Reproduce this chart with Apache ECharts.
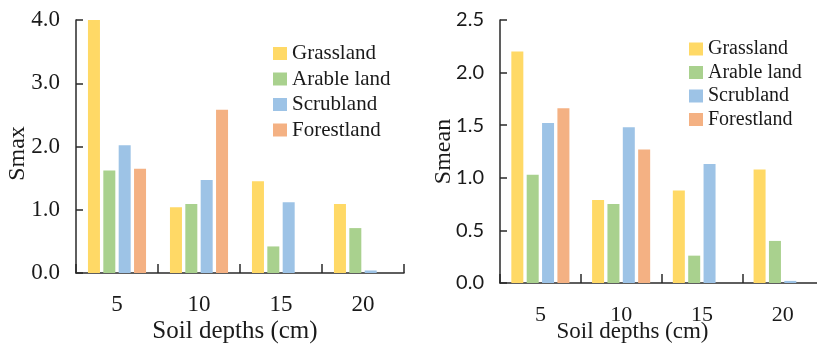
<!DOCTYPE html>
<html>
<head>
<meta charset="utf-8">
<script src="https://cdn.jsdelivr.net/npm/echarts@6/dist/echarts.min.js"></script>
<style>
html,body{margin:0;padding:0;background:#fff;}
#chart{width:817px;height:350px;}
</style>
</head>
<body>
<div id="chart"></div>
<script>
const categories = ['5', '10', '15', '20'];
const seriesNames = ['Grassland', 'Arable land', 'Scrubland', 'Forestland'];
const smaxGrassland = [4.0, 1.04, 1.45, 1.09];
const smaxArable = [1.62, 1.09, 0.42, 0.71];
const smaxScrub = [2.02, 1.47, 1.12, 0.04];
const smaxForest = [1.65, 2.58, null, null];
const smeanGrassland = [2.20, 0.79, 0.88, 1.08];
const smeanArable = [1.03, 0.75, 0.26, 0.40];
const smeanScrub = [1.52, 1.48, 1.13, 0.02];
const smeanForest = [1.66, 1.27, null, null];
const smaxTicks = [0, 1, 2, 3, 4];
const smeanTicks = [0, 0.5, 1.0, 1.5, 2.0, 2.5];

const colors = ['#FFD966', '#A9D18E', '#9DC3E6', '#F4B183'];
const serif = 'Liberation Serif';
const sans = 'Lato';
const axisColor = '#2a2a2a';
const textColor = '#1a1a1a';

function xAxisCfg(gridIndex, nameGap, nameSize, namePad, labelSize, labelMargin) {
  return {
    type: 'category', gridIndex, data: categories,
    name: 'Soil depths (cm)', nameLocation: 'middle', nameGap, nameMoveOverlap: false,
    nameTextStyle: {fontFamily: serif, fontSize: nameSize, color: textColor, padding: namePad},
    axisLine: {lineStyle: {color: axisColor, width: 1.5}},
    axisTick: {show: true, inside: true, length: 9, lineStyle: {color: axisColor, width: 1.5}},
    axisLabel: {fontFamily: serif, fontSize: labelSize, color: textColor, margin: labelMargin}
  };
}
function yAxisCfg(gridIndex, name, ticks, font, fontSize, nameGap, namePad) {
  return {
    type: 'value', gridIndex, min: ticks[0], max: ticks[ticks.length - 1],
    interval: ticks[1] - ticks[0],
    name, nameLocation: 'middle', nameGap, nameMoveOverlap: false,
    nameTextStyle: {fontFamily: serif, fontSize: 24, color: textColor, padding: namePad},
    axisLine: {show: true, lineStyle: {color: axisColor, width: 1.5}},
    axisTick: {show: true, inside: true, length: 7, lineStyle: {color: axisColor, width: 1.5}},
    splitLine: {show: false},
    axisLabel: {fontFamily: font, fontSize, color: textColor, margin: 16,
      formatter: v => v.toFixed(1)}
  };
}
function barSeries(name, data, idx, color) {
  return {
    name, type: 'bar', xAxisIndex: idx, yAxisIndex: idx, data,
    barWidth: 12, barGap: '28%', itemStyle: {color}
  };
}
function legendCfg(left, top, gap, size) {
  return {
    data: seriesNames, orient: 'vertical', left, top, itemGap: gap, padding: 0,
    itemWidth: 14, itemHeight: 13, icon: 'rect', itemStyle: {borderWidth: 0},
    textStyle: {fontFamily: serif, fontSize: size, color: textColor}, itemTextGap: 6
  };
}

const chart = echarts.init(document.getElementById('chart'));
chart.setOption({
  backgroundColor: '#ffffff',
  animation: false,
  grid: [
    {left: 76, right: 413, top: 20, bottom: 77, outerBoundsMode: 'none', containLabel: false},
    {left: 500, right: -6, top: 20, bottom: 67, outerBoundsMode: 'none', containLabel: false}
  ],
  legend: [legendCfg(273, 43, 4.5, 21), legendCfg(689, 39, 3.5, 20)],
  xAxis: [
    xAxisCfg(0, 46, 25, [0, 10, 0, 0], 23, 20),
    xAxisCfg(1, 37, 23, [0, 58, 0, 0], 22, 21)
  ],
  yAxis: [
    yAxisCfg(0, 'Smax', smaxTicks, serif, 23, 46, [0, 14, 0, 0]),
    yAxisCfg(1, 'Smean', smeanTicks, sans, 20, 44, [0, 0, 0, 0])
  ],
  series: [
    barSeries(seriesNames[0], smaxGrassland, 0, colors[0]),
    barSeries(seriesNames[1], smaxArable, 0, colors[1]),
    barSeries(seriesNames[2], smaxScrub, 0, colors[2]),
    barSeries(seriesNames[3], smaxForest, 0, colors[3]),
    barSeries(seriesNames[0], smeanGrassland, 1, colors[0]),
    barSeries(seriesNames[1], smeanArable, 1, colors[1]),
    barSeries(seriesNames[2], smeanScrub, 1, colors[2]),
    barSeries(seriesNames[3], smeanForest, 1, colors[3])
  ]
});
</script>
</body>
</html>
